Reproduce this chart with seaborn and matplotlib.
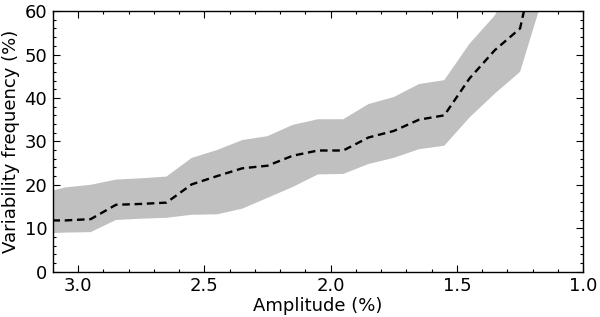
import matplotlib
matplotlib.use("Agg")
import matplotlib.pyplot as plt
from matplotlib.ticker import MultipleLocator
import numpy as np
import pandas as pd
import seaborn as sns

# Values
amplitude = [3.15, 3.05, 2.95, 2.85, 2.75, 2.65, 2.55, 2.45, 2.35, 2.25, 2.15,
             2.05, 1.95, 1.85, 1.75, 1.65, 1.55, 1.45, 1.35, 1.25, 1.15]
frequency = [11.8, 11.8, 12.1, 15.4, 15.6, 15.9, 20.1, 22.0, 23.8, 24.4, 26.7,
             27.9, 27.9, 30.9, 32.4, 35.0, 36.0, 44.5, 51.0, 56.0, 82.0]
upper = [18.0, 19.4, 20.0, 21.2, 21.5, 21.9, 26.2, 28.0, 30.3, 31.2, 33.8,
         35.1, 35.1, 38.6, 40.2, 43.2, 44.1, 52.5, 59.0, 70.0, 95.0]
lower = [8.8, 9.0, 9.1, 11.9, 12.2, 12.4, 13.1, 13.2, 14.5, 17.0, 19.5,
         22.4, 22.5, 24.8, 26.2, 28.2, 29.0, 35.5, 41.0, 46.0, 65.0]

df = pd.DataFrame({"Amplitude": amplitude, "Frequency": frequency})

sns.set_style("ticks")
plt.rcParams["font.family"] = ["DejaVu Sans"]
plt.rcParams["xtick.direction"] = "in"
plt.rcParams["ytick.direction"] = "in"
plt.rcParams["text.color"] = "black"
plt.rcParams["axes.labelcolor"] = "black"
plt.rcParams["xtick.color"] = "black"
plt.rcParams["ytick.color"] = "black"
plt.rcParams["axes.edgecolor"] = "black"

fig = plt.figure(figsize=(6, 3.17), dpi=100)
ax = fig.add_axes([0.088, 0.143, 0.884, 0.822])

ax.fill_between(amplitude, lower, upper, color="#c0c0c0", linewidth=0)
sns.lineplot(data=df, x="Amplitude", y="Frequency", ax=ax, color="black",
             linewidth=1.7, sort=False, dashes=False)
ax.lines[-1].set_dashes((3.2, 2.0))

ax.set_xlim(3.1, 1.0)
ax.set_ylim(0, 60)
ax.xaxis.set_major_locator(MultipleLocator(0.5))
ax.xaxis.set_minor_locator(MultipleLocator(0.1))
ax.yaxis.set_major_locator(MultipleLocator(10))
ax.yaxis.set_minor_locator(MultipleLocator(2))
ax.tick_params(which="both", top=True, right=True, labelsize=13, width=0.8)
ax.tick_params(which="major", length=5, pad=4)
ax.tick_params(which="minor", length=2.5)
for s in ax.spines.values():
    s.set_linewidth(1.0)

ax.set_xlabel("Amplitude (%)", fontsize=13, labelpad=1)
ax.set_ylabel("Variability frequency (%)", fontsize=13, labelpad=3)

fig.savefig("out.png", dpi=100)
